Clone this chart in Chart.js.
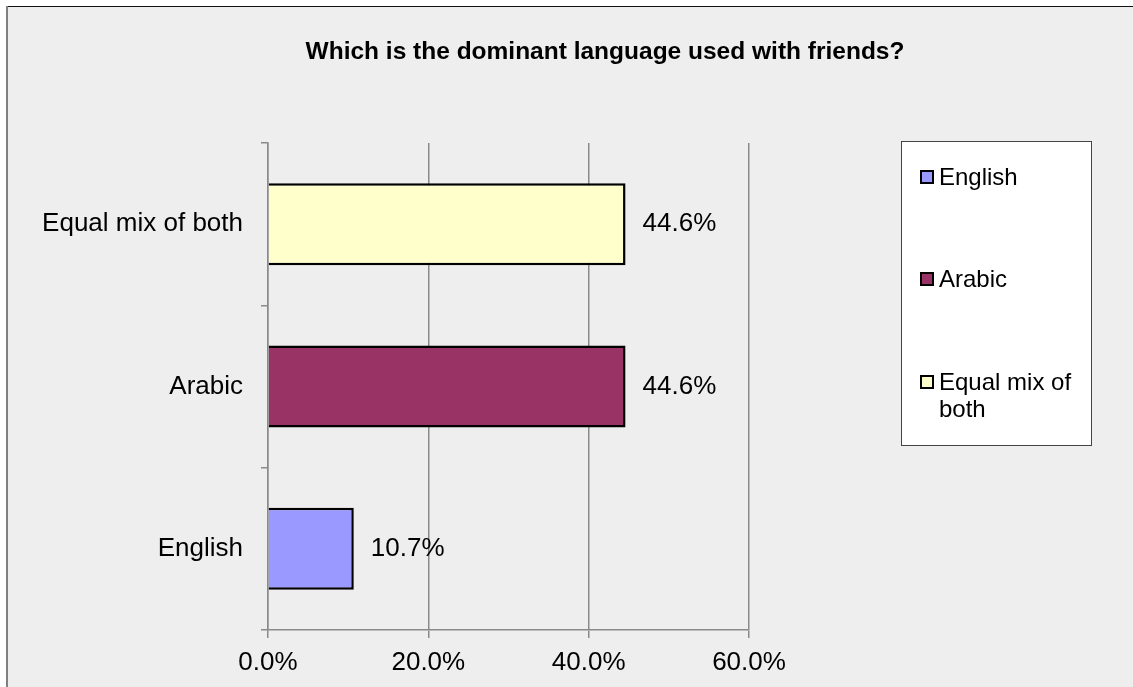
<!DOCTYPE html>
<html>
<head>
<meta charset="utf-8">
<title>Dominant language used with friends</title>
<script src="https://cdn.jsdelivr.net/npm/chart.js@4.4.1/dist/chart.umd.min.js"></script>
<style>
  html, body { margin: 0; padding: 0; background: #fff; }
  canvas { display: block; }
</style>
</head>
<body>
<canvas id="langChart" width="1133" height="687"></canvas>
<script>
const chartTitle = 'Which is the dominant language used with friends?';
const categories = ['English', 'Arabic', 'Equal mix of both'];
const shares = [10.7, 44.6, 44.6];
const barColors = ['#9999ff', '#993366', '#ffffcc'];
const xTicks = [0, 20, 40, 60];

const FONT = "'Liberation Sans', Arial, sans-serif";
const GRID = '#8a8a8a';

// grey panel with the dark top rule and grey left rule
const panelBackground = {
    id: 'panelBackground',
    beforeDraw(chart) {
        const ctx = chart.ctx;
        ctx.save();
        ctx.fillStyle = '#ffffff';
        ctx.fillRect(0, 0, chart.width, chart.height);
        ctx.fillStyle = '#eeeeee';
        ctx.fillRect(7, 7, chart.width - 7, chart.height - 7);
        ctx.fillStyle = '#111111';
        ctx.fillRect(6, 6, chart.width - 6, 1);
        ctx.fillStyle = '#808080';
        ctx.fillRect(6, 6, 2, chart.height - 6);

        ctx.fillStyle = '#000';
        ctx.font = 'bold 24.5px ' + FONT;
        ctx.textAlign = 'center';
        ctx.textBaseline = 'alphabetic';
        ctx.fillText(chartTitle, 605, 59);
        ctx.restore();
    }
};

// percentage text to the right of each bar
const valueLabels = {
    id: 'valueLabels',
    afterDatasetsDraw(chart) {
        const ctx = chart.ctx;
        const meta = chart.getDatasetMeta(0);
        ctx.save();
        ctx.fillStyle = '#000';
        ctx.font = '26px ' + FONT;
        ctx.textAlign = 'left';
        ctx.textBaseline = 'middle';
        meta.data.forEach((bar, i) => {
            ctx.fillText(shares[i].toFixed(1) + '%', bar.x + 17, bar.y);
        });
        ctx.restore();
    }
};

// boxed legend on the right, long names wrap onto a second line
const boxLegend = {
    id: 'boxLegend',
    afterDraw(chart) {
        const ctx = chart.ctx;
        const box = { x: 901.5, y: 141.5, w: 190, h: 304 };
        const rows = [['English'], ['Arabic'], ['Equal mix of', 'both']];
        const baselines = [185, 287, 390];
        ctx.save();
        ctx.fillStyle = '#ffffff';
        ctx.fillRect(box.x, box.y, box.w, box.h);
        ctx.strokeStyle = '#444444';
        ctx.lineWidth = 1;
        ctx.strokeRect(box.x, box.y, box.w, box.h);

        ctx.font = '24px ' + FONT;
        ctx.textAlign = 'left';
        ctx.textBaseline = 'alphabetic';
        rows.forEach((lines, i) => {
            const base = baselines[i];
            ctx.fillStyle = barColors[i];
            ctx.fillRect(921, base - 14, 12, 12);
            ctx.strokeStyle = '#000';
            ctx.lineWidth = 2;
            ctx.strokeRect(921, base - 14, 12, 12);
            ctx.fillStyle = '#000';
            lines.forEach((line, k) => ctx.fillText(line, 939, base + k * 27));
        });
        ctx.restore();
    }
};

new Chart(document.getElementById('langChart'), {
    type: 'bar',
    data: {
        labels: categories,
        datasets: [{
            data: shares,
            backgroundColor: barColors,
            borderColor: '#000',
            borderWidth: 2.5,
            barPercentage: 0.505,
            categoryPercentage: 1
        }]
    },
    options: {
        indexAxis: 'y',
        responsive: false,
        animation: false,
        events: [],
        layout: { padding: { top: 143, right: 384, bottom: 0, left: 0 } },
        plugins: {
            legend: { display: false },
            title: { display: false },
            tooltip: { enabled: false }
        },
        scales: {
            x: {
                min: 0,
                max: 60,
                afterFit(scale) { scale.height = 57; },
                afterBuildTicks(scale) { scale.ticks = xTicks.map(v => ({ value: v })); },
                ticks: {
                    color: '#000',
                    font: { family: FONT, size: 26 },
                    padding: 9,
                    maxRotation: 0,
                    callback: v => v.toFixed(1) + '%'
                },
                grid: { color: GRID, lineWidth: 1.5, tickLength: 8 },
                border: { color: GRID, width: 1.5 }
            },
            y: {
                reverse: true,
                afterFit(scale) { scale.width = 268; },
                ticks: {
                    color: '#000',
                    font: { family: FONT, size: 26 },
                    padding: 18
                },
                grid: { drawOnChartArea: false, color: GRID, lineWidth: 1.5, tickLength: 7 },
                border: { color: GRID, width: 1.5 }
            }
        }
    },
    plugins: [panelBackground, valueLabels, boxLegend]
});
</script>
</body>
</html>
